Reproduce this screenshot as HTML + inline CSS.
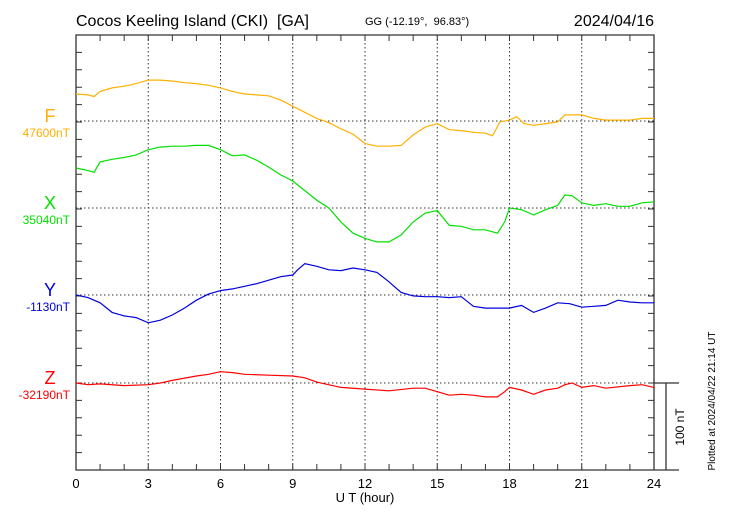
<!DOCTYPE html>
<html><head><meta charset="utf-8"><style>
body{margin:0;background:#fff}
svg{display:block;font-family:"Liberation Sans",sans-serif}
</style></head><body>
<svg id="chart" width="730" height="520" xmlns="http://www.w3.org/2000/svg">
<text x="76" y="26" font-size="16">Cocos Keeling Island (CKI)&#160; [GA]</text>
<text x="365" y="25" font-size="11">GG (-12.19°,&#160; 96.83°)</text>
<text x="654" y="26" font-size="16" text-anchor="end">2024/04/16</text>
<g id="grid"></g>
<g id="axes"></g>
<g id="series"></g>
<text x="365" y="502" font-size="13" text-anchor="middle">U T (hour)</text>
<text transform="translate(684,427) rotate(-90)" font-size="12" text-anchor="middle">100 nT</text>
<text transform="translate(715,401) rotate(-90)" font-size="10" text-anchor="middle">Plotted at 2024/04/22 21:14 UT</text>
</svg>
<script>
const xTicks=[0,3,6,9,12,15,18,21,24];
const fTimes=[0,0.5,0.75,1,1.5,2,2.5,3,3.5,4,4.5,5,5.5,6,6.5,7,7.5,8,8.5,9,9.5,10,10.5,11,11.5,12,12.5,13,13.5,14,14.5,15,15.5,16,16.5,17,17.3,17.6,18,18.3,18.6,19,19.5,20,20.3,21,21.5,22,22.5,23,23.5,24];
const fValues=[47631,47630,47628,47634,47638,47640,47643,47647,47647,47646,47644,47643,47641,47638,47634,47631,47630,47629,47624,47617,47610,47603,47598,47591,47585,47574,47571,47571,47572,47584,47593,47597,47590,47589,47587,47586,47583,47599,47601,47605,47597,47595,47597,47599,47607,47607,47603,47601,47601,47601,47603,47603];
const xTimes=[0,0.5,0.75,1,1.5,2,2.5,3,3.5,4,4.5,5,5.5,6,6.5,7,7.5,8,8.5,9,9.5,10,10.5,11,11.5,12,12.5,13,13.5,14,14.5,15,15.5,16,16.5,17,17.5,17.8,18,18.5,19,19.5,20,20.3,20.6,21,21.5,22,22.5,23,23.5,24];
const xValues=[35086,35083,35081,35093,35096,35098,35101,35107,35110,35111,35111,35112,35112,35107,35100,35101,35095,35087,35078,35071,35060,35049,35040,35024,35011,35005,35001,35001,35009,35024,35034,35037,35020,35019,35015,35015,35011,35024,35040,35038,35032,35038,35043,35055,35054,35046,35043,35045,35042,35042,35046,35047];
const yTimes=[0,0.5,1,1.5,2,2.5,3,3.5,4,4.5,5,5.5,6,6.5,7,7.5,8,8.5,9,9.2,9.5,10,10.5,11,11.5,12,12.5,13,13.5,14,14.5,15,15.5,16,16.5,17,17.5,18,18.5,19,19.5,20,20.5,21,21.5,22,22.5,23,23.5,24];
const yValues=[-1130,-1133,-1139,-1150,-1154,-1156,-1162,-1159,-1153,-1145,-1136,-1129,-1125,-1123,-1120,-1117,-1113,-1109,-1107,-1101,-1094,-1097,-1101,-1102,-1099,-1101,-1104,-1115,-1127,-1131,-1132,-1132,-1133,-1132,-1143,-1145,-1145,-1145,-1142,-1150,-1145,-1139,-1140,-1144,-1143,-1142,-1136,-1138,-1139,-1139];
const zTimes=[0,0.5,1,2,3,3.5,4,5,5.5,6,6.5,7,8,9,9.5,10,11,12,13,14,14.5,15,15.5,16,16.5,17,17.5,17.8,18,18.5,19,19.5,20,20.3,20.6,21,21.5,22,23,23.5,24];
const zValues=[-32190,-32192,-32191,-32193,-32192,-32190,-32187,-32182,-32180,-32177,-32178,-32180,-32181,-32182,-32184,-32189,-32195,-32197,-32199,-32196,-32196,-32200,-32204,-32203,-32204,-32206,-32206,-32200,-32195,-32198,-32203,-32198,-32196,-32192,-32190,-32195,-32193,-32196,-32193,-32192,-32195];
const seriesNames=["F","X","Y","Z"];
const baselines=[47600,35040,-1130,-32190];
const baseLabels=["47600nT","35040nT","-1130nT","-32190nT"];

const NS="http://www.w3.org/2000/svg";
const L=76,R=654,T=35,B=470,pxPerNT=87/100;
const baseY=[121,208,295,383];
const colors=["#ffb000","#00e000","#0000dd","#ff0000"];
const times=[fTimes,xTimes,yTimes,zTimes],vals=[fValues,xValues,yValues,zValues];
function sx(t){return L+(R-L)*t/24;}
function sy(i,v){return baseY[i]-(v-baselines[i])*pxPerNT;}
function mk(tag,attrs,parent){const e=document.createElementNS(NS,tag);for(const k in attrs)e.setAttribute(k,attrs[k]);parent.appendChild(e);return e;}
const grid=document.getElementById('grid'),axes=document.getElementById('axes'),sg=document.getElementById('series');
xTicks.forEach((t,j)=>{
  if(j>0&&j<xTicks.length-1){const g=mk('line',{x1:sx(t),x2:sx(t),y1:T,y2:B,stroke:'#333','stroke-dasharray':'1.5,2.5','stroke-width':1},grid);
  
  }
  const tx=mk('text',{x:sx(t),y:488,'font-size':13,'text-anchor':'middle'},axes);tx.textContent=t;
  
  
});
baseY.forEach((y,i)=>{
  const g=mk('line',{x1:L,x2:R,y1:y,y2:y,stroke:'#333','stroke-dasharray':'1.5,2.5','stroke-width':1},grid);
  
  
  const n=mk('text',{x:50,y:y+1,'font-size':18,'text-anchor':'middle',fill:colors[i]},axes);n.textContent=seriesNames[i];
  
  
  const b=mk('text',{x:70,y:y+16,'font-size':12,'text-anchor':'end',fill:colors[i]},axes);b.textContent=baseLabels[i];
  
  
});
let d='';
for(let h=1;h<24;h++){d+=`M${sx(h)},${T}v6M${sx(h)},${B}v-6`;}
for(let k=1;k<25;k++){const y=T+k*17.4;d+=`M${L},${y}h6M${R},${y}h-6`;}
const tk=mk('path',{d:d,stroke:'#333','stroke-width':1,fill:'none'},axes);


const fr=mk('path',{d:`M${L},${T}H${R}V${B}H${L}Z M${R},${B}H679 M${R},383H679 M666,383V${B}`,stroke:'#333','stroke-width':1.3,fill:'none'},axes);


seriesNames.forEach((nm,i)=>{
  const pts=times[i].map((t,j)=>sx(t).toFixed(1)+','+sy(i,vals[i][j]).toFixed(1)).join(' ');
  const p=mk('polyline',{points:pts,fill:'none',stroke:colors[i],'stroke-width':1.2},sg);
  
  
});
</script>
</body></html>
